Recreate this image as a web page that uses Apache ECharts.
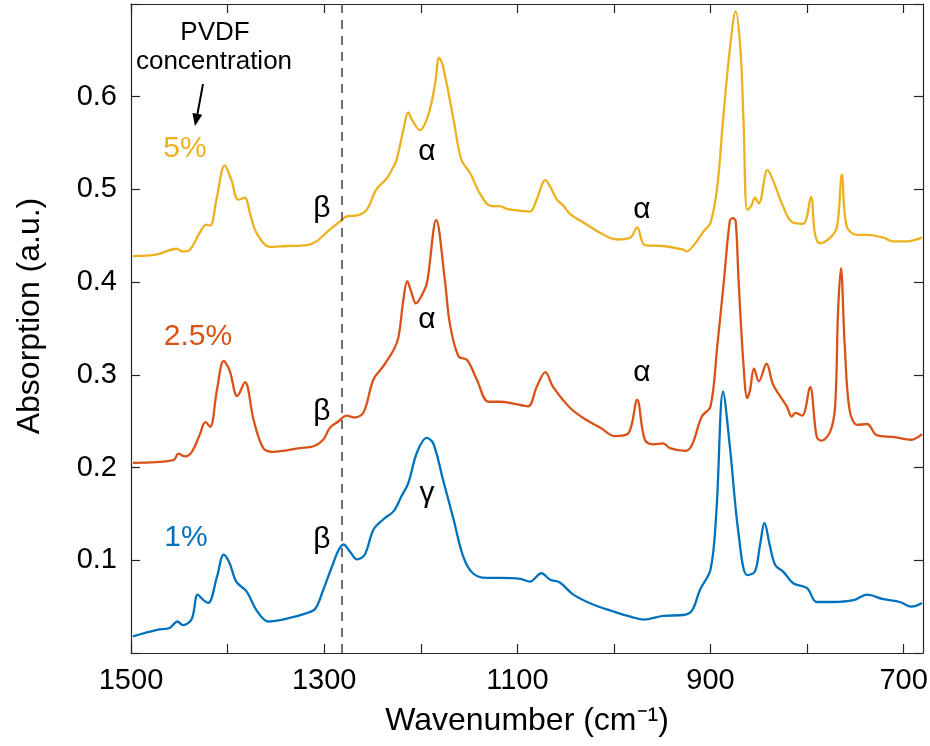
<!DOCTYPE html>
<html>
<head>
<meta charset="utf-8">
<script src="https://cdn.jsdelivr.net/npm/echarts@6/dist/echarts.min.js"></script>
<style>
html,body{margin:0;padding:0;background:#fff;}
#chart{width:930px;height:746px;}
</style>
</head>
<body>
<div id="chart"></div>
<script>
// ---- Data ----
const wavenumber_1pct = [1498,1473,1460,1452,1446,1437,1431,1425,1420,1411,1404,1398,1391,1380,1370,1358,1339,1318,1309,1301,1292,1285,1280,1273,1266,1258,1249,1239,1228,1220,1213,1204,1194,1187,1177,1166,1156,1146,1132,1118,1097,1087,1075,1066,1056,1042,1021,1001,982,969,949,928,919,911,900,894,887,880,871,862,854,849,844,839,833,825,814,800,790,773,752,738,721,704,692,681];
const absorption_1pct = [0.018,0.025,0.027,0.034,0.030,0.037,0.063,0.057,0.054,0.082,0.106,0.097,0.077,0.066,0.046,0.034,0.037,0.043,0.048,0.068,0.093,0.111,0.117,0.109,0.101,0.106,0.133,0.144,0.153,0.169,0.183,0.216,0.232,0.226,0.187,0.144,0.104,0.086,0.081,0.081,0.080,0.077,0.086,0.079,0.076,0.063,0.052,0.045,0.039,0.036,0.040,0.041,0.046,0.068,0.090,0.151,0.282,0.223,0.129,0.084,0.088,0.115,0.140,0.118,0.095,0.088,0.075,0.070,0.055,0.055,0.057,0.063,0.058,0.055,0.050,0.054];

const wavenumber_2_5pct = [1498,1456,1451,1444,1437,1429,1423,1418,1411,1404,1398,1390,1382,1373,1363,1353,1325,1311,1301,1294,1285,1277,1268,1259,1249,1239,1228,1223,1218,1214,1210,1205,1196,1193,1184,1175,1170,1161,1152,1142,1130,1118,1104,1089,1080,1071,1063,1045,1028,1014,999,985,976,968,959,949,942,926,919,909,900,893,886,880,877,874,871,866,862,859,855,850,842,835,821,816,812,805,797,790,785,776,771,768,765,761,756,748,738,728,711,692,681];
const absorption_2_5pct = [0.205,0.208,0.215,0.212,0.217,0.235,0.249,0.244,0.284,0.315,0.305,0.277,0.292,0.251,0.221,0.217,0.221,0.223,0.230,0.243,0.250,0.256,0.254,0.260,0.295,0.309,0.327,0.341,0.381,0.401,0.390,0.377,0.392,0.402,0.467,0.402,0.356,0.320,0.316,0.295,0.271,0.271,0.269,0.266,0.287,0.303,0.287,0.264,0.251,0.243,0.234,0.237,0.273,0.230,0.225,0.226,0.221,0.218,0.225,0.255,0.266,0.331,0.403,0.466,0.469,0.466,0.403,0.313,0.275,0.284,0.307,0.293,0.312,0.289,0.266,0.255,0.259,0.256,0.287,0.233,0.229,0.239,0.266,0.367,0.415,0.331,0.262,0.246,0.247,0.235,0.233,0.230,0.236];

const wavenumber_5pct = [1498,1473,1453,1446,1439,1429,1422,1418,1411,1403,1396,1389,1382,1377,1370,1356,1339,1318,1308,1294,1284,1277,1266,1256,1246,1235,1228,1225,1218,1213,1209,1201,1192,1185,1181,1177,1166,1158,1149,1139,1127,1118,1111,1097,1087,1080,1071,1066,1059,1052,1045,1028,1014,997,983,976,968,949,928,925,918,907,900,893,887,880,874,869,866,862,858,854,850,841,835,825,816,804,796,792,787,776,769,764,759,748,738,721,711,697,681];
const absorption_5pct = [0.428,0.430,0.436,0.433,0.435,0.453,0.462,0.461,0.492,0.526,0.510,0.489,0.491,0.475,0.453,0.438,0.439,0.440,0.444,0.457,0.465,0.471,0.472,0.478,0.500,0.512,0.525,0.532,0.564,0.583,0.575,0.564,0.581,0.615,0.642,0.633,0.575,0.532,0.518,0.496,0.482,0.482,0.479,0.477,0.476,0.489,0.510,0.503,0.489,0.482,0.473,0.462,0.453,0.446,0.448,0.459,0.440,0.439,0.435,0.433,0.439,0.455,0.464,0.503,0.575,0.651,0.692,0.651,0.579,0.478,0.482,0.491,0.485,0.521,0.509,0.482,0.465,0.463,0.492,0.453,0.442,0.448,0.460,0.516,0.460,0.451,0.451,0.448,0.444,0.444,0.448];

const xTickValues = [1500,1400,1300,1200,1100,1000,900,800,700];
const xLabelValues = [1500,1300,1100,900,700];
const yLabelValues = [0.1,0.2,0.3,0.4,0.5,0.6];
const betaMarkerWavenumber = 1282;

const seriesNames = ['1%','2.5%','5%'];
const seriesColors = ['#0072BD','#D95319','#EDB120'];

// ---- Chart ----
const FONT = '"Liberation Sans", Arial, Helvetica, sans-serif';
const AXIS_COLOR = '#262626';

function pairs(xs, ys){ return xs.map((x,i)=>[x, ys[i]]); }

const chart = echarts.init(document.getElementById('chart'), null, {renderer:'canvas'});

const xBase = {
  type:'value', min:680, max:1500, inverse:true,
  axisLine:{show:true, onZero:false, lineStyle:{color:AXIS_COLOR, width:1.2}},
  axisTick:{show:true, inside:true, length:9, customValues:xTickValues, lineStyle:{color:AXIS_COLOR, width:1.2}},
  splitLine:{show:false}
};
const yBase = {
  type:'value', min:0, max:0.7, interval:0.1,
  axisLine:{show:true, onZero:false, lineStyle:{color:AXIS_COLOR, width:1.2}},
  axisTick:{show:true, inside:true, length:9, lineStyle:{color:AXIS_COLOR, width:1.2}},
  splitLine:{show:false}
};

const lineSeries = (name, xs, ys, color, extra) => Object.assign({
  name, type:'line', data:pairs(xs, ys), showSymbol:false, symbol:'none',
  smooth:0.35,
  lineStyle:{color, width:2.3}, itemStyle:{color}, z:3
}, extra||{});

chart.setOption({
  animation:false,
  backgroundColor:'#fff',
  grid:{left:131, right:7, top:4, bottom:93, containLabel:false, outerBoundsMode:'none'},
  xAxis:[
    Object.assign({}, xBase, {
      position:'bottom',
      axisLabel:{show:true, customValues:xLabelValues, color:'#000', fontFamily:FONT, fontSize:29, margin:13,
        formatter:(v)=>String(Math.round(v))}
    }),
    Object.assign({}, xBase, {position:'top', axisLabel:{show:false}})
  ],
  yAxis:[
    Object.assign({}, yBase, {
      position:'left',
      axisLabel:{show:true, customValues:yLabelValues, color:'#000', fontFamily:FONT, fontSize:29, margin:14,
        formatter:(v)=>Number(v).toFixed(1)}
    }),
    Object.assign({}, yBase, {position:'right', axisLabel:{show:false}})
  ],
  series:[
    lineSeries(seriesNames[0], wavenumber_1pct, absorption_1pct, seriesColors[0], {
      markLine:{
        silent:true, symbol:['none','none'], label:{show:false}, animation:false,
        lineStyle:{color:'#444', width:1.5, type:[9,7]},
        data:[{xAxis:betaMarkerWavenumber}]
      }
    }),
    lineSeries(seriesNames[1], wavenumber_2_5pct, absorption_2_5pct, seriesColors[1]),
    lineSeries(seriesNames[2], wavenumber_5pct, absorption_5pct, seriesColors[2])
  ]
});

// ---- Annotations ----
function txt(x, y, text, color, size){
  return {type:'text', x, y, silent:true, z:10,
    style:{text, fill:color, fontFamily:FONT, fontSize:size, align:'center', verticalAlign:'middle'}};
}
chart.setOption({
  graphic:[
    txt(215, 33, 'PVDF', '#000', 26),
    txt(214, 62, 'concentration', '#000', 26),
    {type:'line', silent:true, shape:{x1:203, y1:84, x2:197.4, y2:114}, style:{stroke:'#000', lineWidth:2}},
    {type:'polygon', silent:true, shape:{points:[[195,126],[202.3,114.8],[192.4,113.0]]}, style:{fill:'#000'}},
    txt(185, 149, '5%', seriesColors[2], 30),
    txt(198, 337, '2.5%', seriesColors[1], 30),
    txt(186, 538, '1%', seriesColors[0], 30),
    txt(322, 209, 'β', '#000', 30),
    txt(322, 412, 'β', '#000', 30),
    txt(322, 540, 'β', '#000', 30),
    txt(427, 152, 'α', '#000', 30),
    txt(427, 320, 'α', '#000', 30),
    txt(642, 210, 'α', '#000', 30),
    txt(642, 373, 'α', '#000', 30),
    txt(427, 494, 'γ', '#000', 30),
    txt(527, 721, 'Wavenumber (cm⁻¹)', '#000', 32),
    {type:'text', x:30, y:316, rotation:Math.PI/2, silent:true,
      style:{text:'Absorption (a.u.)', fill:'#000', fontFamily:FONT, fontSize:32, align:'center', verticalAlign:'middle'}}
  ]
});
</script>
</body>
</html>
